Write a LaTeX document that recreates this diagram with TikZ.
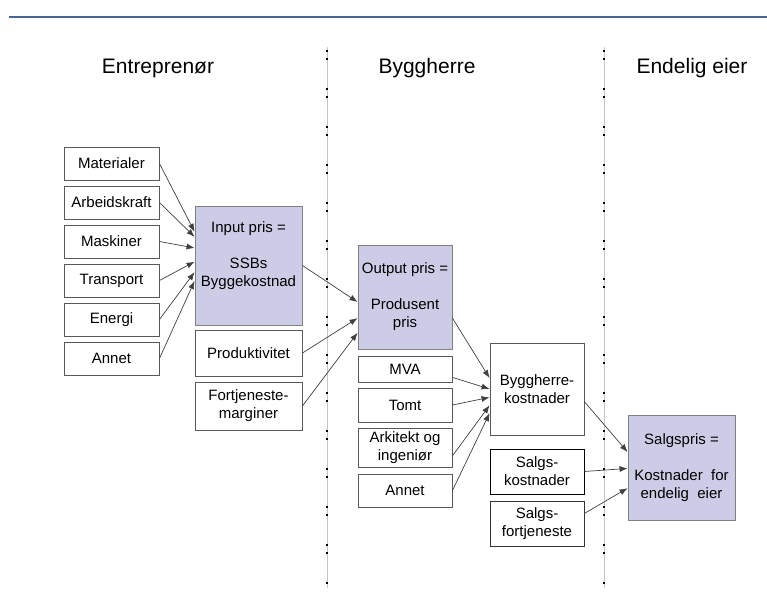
\documentclass[tikz,border=0pt]{standalone}
\usepackage{fontspec}
\setmainfont{Liberation Sans}
\usetikzlibrary{arrows.meta}

\definecolor{lilla}{RGB}{204,204,230}
\definecolor{toppstrek}{RGB}{72,102,150}

\tikzset{
  boks/.style = {draw = gray!70!black, fill = white, line width = 0.9pt, align = center,
                 inner sep = 0pt, font = \fontsize{15}{18}\selectfont},
  prisboks/.style = {boks, fill = lilla, draw = gray},
  tittel/.style = {anchor = base, font = \fontsize{21}{25}\selectfont},
  pil/.style = {-{Latex[length = 8pt, width = 6pt]}, line width = 0.7pt, black!75},
  skille/.style = {line width = 0.8pt, gray!45}
}

\begin{document}
\begin{tikzpicture}[x = 1pt, y = -1pt]
\useasboundingbox (0,0) rectangle (767,604);

\draw[toppstrek, line width = 2.5pt] (9,17) -- (767,17);

% skillelinjer
\foreach \x in {327, 604}{
   \draw[skille] (\x,47) -- (\x,588);
   \draw[line width = 1.3pt, dash pattern = on 2pt off 6pt on 2pt off 28pt] (\x,50) -- (\x,588);
   }

\node[tittel] (h1) at (158,74) {Entreprenør};
\node[tittel] (h2) at (427,74) {Byggherre};
\node[tittel] (h3) at (692,74) {Endelig eier};

% entreprenør
\foreach \navn [count = \i] in {Materialer, Arbeidskraft, Maskiner, Transport, Energi, Annet}
   \node[boks, minimum width = 95pt, minimum height = 33pt] (k\i) at (111.5, 124.5 + \i*39) {\navn};

\node[prisboks, minimum width = 107pt, minimum height = 119pt] (inp) at (248.5,265.5)
   {Input pris =\\[18pt]SSBs\\Byggekostnad\\[4pt]\mbox{}};
\node[boks, minimum width = 107pt, minimum height = 46pt] (prod) at (248.5,353) {Produktivitet};
\node[boks, minimum width = 107pt, minimum height = 48pt] (fort) at (248.5,406) {Fortjeneste-\\marginer};

\foreach \i/\v in {1/148, 2/152, 3/162, 4/176, 5/187, 6/196}
   \draw[pil] (k\i.east) -- (inp.\v);

% byggherre
\node[prisboks, minimum width = 94pt, minimum height = 104pt] (outp) at (405,297)
   {Output pris =\\[18pt]Produsent\\pris};
\node[boks, minimum width = 94pt, minimum height = 26pt] (mva) at (405,369) {MVA};
\node[boks, minimum width = 94pt, minimum height = 34pt] (tomt) at (405,405) {Tomt};
\node[boks, minimum width = 94pt, minimum height = 39pt] (ark) at (405,447.5) {Arkitekt og\\ingeniør};
\node[boks, minimum width = 94pt, minimum height = 33pt] (ann) at (405,490.5) {Annet};

\draw[pil] (inp.east) -- (outp.186);
\draw[pil] (prod.east) -- (outp.204);
\draw[pil] (fort.east) -- (outp.217);

\node[boks, minimum width = 94pt, minimum height = 92pt] (bk) at (537,389) {Byggherre-\\kostnader};

\draw[pil] (outp.336) -- (bk.167);
\draw[pil] (mva.350) -- (bk.180);
\draw[pil] (tomt.east) -- (bk.190);
\draw[pil] (ark.350) -- (bk.199);
\draw[pil] (ann.east) -- (bk.207);

% endelig eier
\node[boks, draw = black, minimum width = 94pt, minimum height = 45pt] (sk) at (537,471.5) {Salgs-\\kostnader};
\node[boks, draw = black!80, minimum width = 94pt, minimum height = 45pt] (sf) at (537,523.5) {Salgs-\\fortjeneste};
\node[prisboks, minimum width = 107pt, minimum height = 105pt] (sp) at (681.5,467.5)
   {Salgspris =\\[18pt]Kostnader~ for\\endelig~ eier};

\draw[pil] (bk.345) -- (sp.164);
\draw[pil] (sk.east) -- (sp.181);
\draw[pil] (sf.12) -- (sp.201);
\end{tikzpicture}
\end{document}
